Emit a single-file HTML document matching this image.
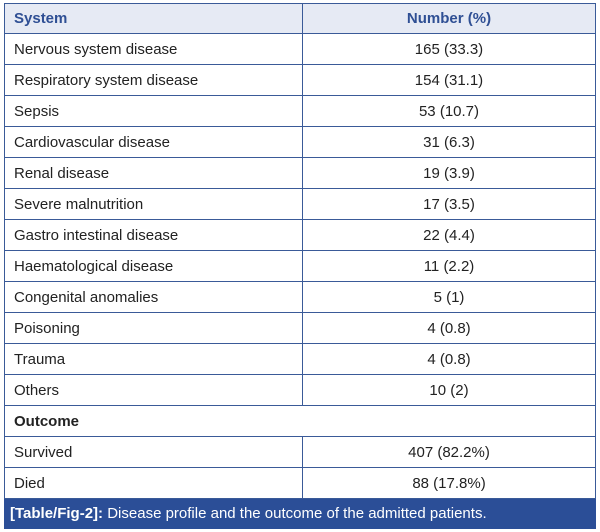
<!DOCTYPE html><html><head><style>
body{margin:0;background:#fff;width:600px;height:532px;font-family:"Liberation Sans",sans-serif;}
.w{position:absolute;left:4px;top:3px;width:592px;}
table{border-collapse:collapse;width:592px;table-layout:fixed;}
td{border:1px solid #3a5a98;height:31px;padding:0 0 0 9px;font-size:15px;color:#222;box-sizing:border-box;}
td.n{text-align:center;padding:0;}
tr.h td{background:#e6eaf4;color:#2f4f94;font-weight:bold;height:30px;}
.cap{background:#2b4e97;color:#fff;height:30px;line-height:30px;font-size:15px;padding-left:6px;box-sizing:border-box;width:592px;}
</style></head><body><div class="w"><table>
<col style="width:298px"><col>
<tr class="h"><td>System</td><td class="n">Number (%)</td></tr>
<tr><td>Nervous system disease</td><td class="n">165 (33.3)</td></tr>
<tr><td>Respiratory system disease</td><td class="n">154 (31.1)</td></tr>
<tr><td>Sepsis</td><td class="n">53 (10.7)</td></tr>
<tr><td>Cardiovascular disease</td><td class="n">31 (6.3)</td></tr>
<tr><td>Renal disease</td><td class="n">19 (3.9)</td></tr>
<tr><td>Severe malnutrition</td><td class="n">17 (3.5)</td></tr>
<tr><td>Gastro intestinal disease</td><td class="n">22 (4.4)</td></tr>
<tr><td>Haematological disease</td><td class="n">11 (2.2)</td></tr>
<tr><td>Congenital anomalies</td><td class="n">5 (1)</td></tr>
<tr><td>Poisoning</td><td class="n">4 (0.8)</td></tr>
<tr><td>Trauma</td><td class="n">4 (0.8)</td></tr>
<tr><td>Others</td><td class="n">10 (2)</td></tr>
<tr><td colspan="2" style="font-weight:bold">Outcome</td></tr>
<tr><td>Survived</td><td class="n">407 (82.2%)</td></tr>
<tr><td>Died</td><td class="n">88 (17.8%)</td></tr>
</table>
<div class="cap"><b>[Table/Fig-2]:</b> Disease profile and the outcome of the admitted patients.</div>
</div></body></html>
